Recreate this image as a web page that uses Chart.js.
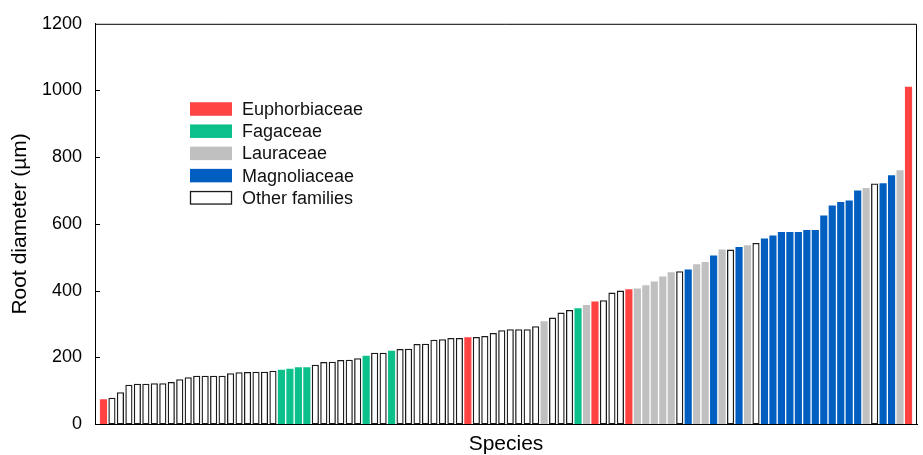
<!DOCTYPE html>
<html>
<head>
<meta charset="utf-8">
<script src="https://cdn.jsdelivr.net/npm/chart.js@4/dist/chart.umd.min.js"></script>
<style>
  body { margin: 0; background: #fff; }
  #wrap { width: 923px; height: 455px; position: relative; }
</style>
</head>
<body>
<div id="wrap"><canvas id="rootChart"></canvas></div>
<script>
// root diameter of each species, sorted small to large (µm)
let diameters = [
  73, 78, 94, 117, 120, 120, 121, 121, 125, 133,
  139, 144, 144, 144, 144, 151, 154, 155, 156, 156,
  159, 162, 165, 169, 169, 177, 185, 186, 191, 192,
  196, 204, 213, 213, 219, 224, 225, 239, 240, 252,
  253, 257, 257, 259, 260, 263, 272, 280, 283, 283,
  283, 292, 307, 318, 333, 341, 346, 356, 366, 370,
  393, 399, 403, 405, 415, 426, 441, 454, 457, 462,
  478, 485, 504, 522, 522, 530, 535, 542, 555, 564,
  575, 575, 575, 581, 581, 624, 654, 665, 669, 699,
  707, 720, 721, 745, 760, 1010
];
// family of each species: E Euphorbiaceae, F Fagaceae, L Lauraceae, M Magnoliaceae, O other
let families = [
  'E','O','O','O','O','O','O','O','O','O',
  'O','O','O','O','O','O','O','O','O','O',
  'O','F','F','F','F','O','O','O','O','O',
  'O','F','O','O','F','O','O','O','O','O',
  'O','O','O','E','O','O','O','O','O','O',
  'O','O','L','O','O','O','F','L','E','O',
  'O','O','E','L','L','L','L','L','O','M',
  'L','L','M','L','O','M','L','O','M','M',
  'M','M','M','M','M','M','M','M','M','M',
  'L','O','M','M','L','E'
];
let familyCodes = ['E', 'F', 'L', 'M', 'O'];
let familyNames = ['Euphorbiaceae', 'Fagaceae', 'Lauraceae', 'Magnoliaceae', 'Other families'];
let yTicks = [0, 200, 400, 600, 800, 1000, 1200];

let fillColor = { E: '#FF4242', F: '#0CC08C', L: '#C0C0C0', M: '#005EC0', O: '#FFFFFF' };
let fontFamily = "'Liberation Sans', Arial, sans-serif";

function lineColor(f) {
  return f == 'O' ? '#1a1a1a' : fillColor[f];
}

// box frame, inward ticks and the legend
let extrasPlugin = {
  id: 'extras',
  afterDatasetsDraw(chart) {
    let ctx = chart.ctx;
    let a = chart.chartArea;
    let ys = chart.scales.y;
    ctx.save();
    ctx.strokeStyle = '#000';
    ctx.lineWidth = 1;
    ctx.beginPath();
    ctx.moveTo(a.left, a.top + 0.5);
    ctx.lineTo(a.right - 0.5, a.top + 0.5);
    ctx.lineTo(a.right - 0.5, a.bottom);
    for (let i = 1; i < yTicks.length - 1; i++) {
      let py = Math.round(ys.getPixelForValue(yTicks[i])) + 0.5;
      ctx.moveTo(a.left, py);
      ctx.lineTo(a.left + 5, py);
    }
    ctx.stroke();

    // legend
    let lx = 190, ly = 109, step = 22.2, bw = 42, bh = 13.5;
    ctx.font = '18px ' + fontFamily;
    ctx.textBaseline = 'middle';
    ctx.textAlign = 'left';
    for (let i = 0; i < familyCodes.length; i++) {
      let c = familyCodes[i];
      let cy = ly + i * step;
      ctx.fillStyle = fillColor[c];
      ctx.fillRect(lx, cy - bh / 2, bw, bh);
      if (c == 'O') {
        ctx.lineWidth = 1.3;
        ctx.strokeStyle = '#1a1a1a';
        ctx.strokeRect(lx + 0.5, cy - bh / 2 + 0.5, bw - 1, bh - 1);
      }
      ctx.fillStyle = '#111';
      ctx.fillText(familyNames[i], lx + 52, cy + 1);
    }
    ctx.restore();
  }
};

let ctx = document.getElementById('rootChart').getContext('2d');
let rootChart = new Chart(ctx, {
  type: 'bar',
  data: {
    datasets: [{
      label: 'Root diameter',
      data: diameters.map((v, i) => ({ x: i + 1, y: v })),
      backgroundColor: families.map(f => fillColor[f]),
      borderColor: families.map(f => lineColor(f)),
      borderWidth: families.map(f => f == 'O' ? 1.3 : 0),
      borderSkipped: false,
      barThickness: 6.5
    }]
  },
  options: {
    animation: false,
    responsive: true,
    maintainAspectRatio: false,
    layout: { padding: { top: 21, right: 6, left: 0, bottom: 0 } },
    plugins: {
      legend: { display: false },
      tooltip: { enabled: false }
    },
    scales: {
      x: {
        type: 'linear',
        min: 0,
        max: 97,
        offset: false,
        grid: { display: false, drawTicks: false },
        ticks: { display: false },
        border: { display: true, color: '#000', width: 1 },
        title: {
          display: true,
          text: 'Species',
          color: '#000',
          font: { family: fontFamily, size: 21, lineHeight: 1 },
          padding: 0
        },
        afterFit(s) { s.height = 31; }
      },
      y: {
        min: 0,
        max: 1200,
        afterBuildTicks(s) { s.ticks = yTicks.map(v => ({ value: v })); },
        ticks: {
          color: '#000',
          padding: 13,
          font: { family: fontFamily, size: 18 },
          callback: v => String(v)
        },
        grid: { display: false, drawTicks: false },
        border: { display: true, color: '#000', width: 1 },
        title: {
          display: true,
          text: 'Root diameter (µm)',
          color: '#000',
          font: { family: fontFamily, size: 21, lineHeight: 1 },
          padding: { top: 10, bottom: 0 }
        },
        afterFit(s) { s.width = 95; }
      }
    }
  },
  plugins: [extrasPlugin]
});
</script>
</body>
</html>
